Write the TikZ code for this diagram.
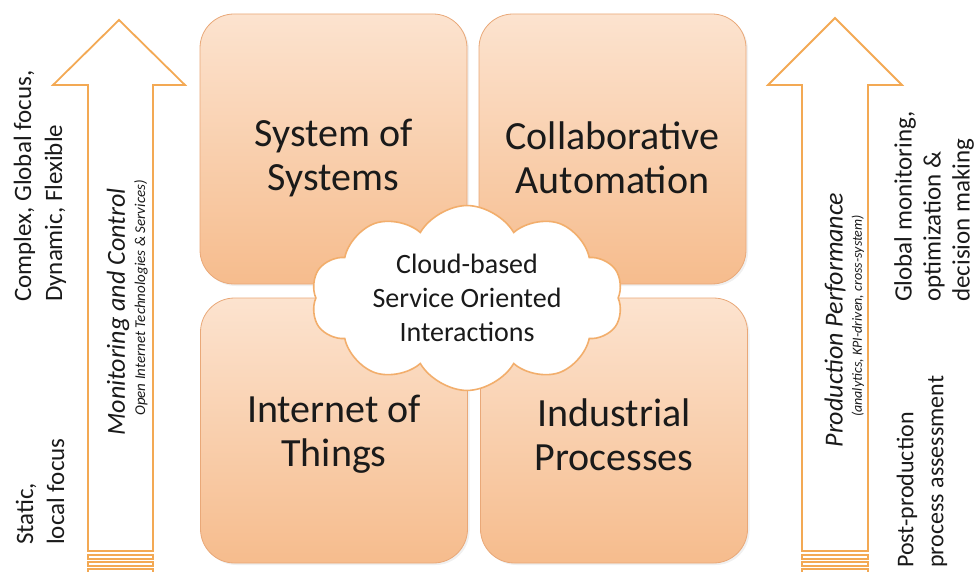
\documentclass[tikz,border=0pt]{standalone}
\usepackage{fontspec}
\setmainfont{Carlito}
\usepackage{xcolor}
\usetikzlibrary{shapes.symbols,shadows}
\definecolor{boxtop}{HTML}{FCE3CF}
\definecolor{boxbot}{HTML}{F6BC8D}
\definecolor{boxline}{HTML}{E9A878}
\definecolor{arrline}{HTML}{F3A954}
\definecolor{cloudline}{HTML}{F2AE6C}
\definecolor{txt}{HTML}{1A1A1A}

\begin{document}
\begin{tikzpicture}[
    x=1pt, y=-1pt,
    quad/.style={rounded corners=34pt, draw=boxline, line width=0.8pt,
        top color=boxtop, bottom color=boxbot,
        minimum width=267pt, minimum height=270pt, inner sep=0pt,
        drop shadow={opacity=0.12, shadow xshift=2pt, shadow yshift=-2pt}},
    quadtext/.style={align=center, text=txt, inner sep=0pt,
        font=\fontsize{40}{44}\selectfont},
    bigarrow/.style={draw=arrline, line width=1.8pt, fill=white, line join=miter},
    stripe/.style={draw=arrline, line width=1.4pt, fill=white},
    side/.style={rotate=90, anchor=west, align=left, inner sep=0pt, text=txt,
        font=\fontsize{25}{31}\selectfont},
    flowtitle/.style={rotate=90, inner sep=0pt, text=txt,
        font=\fontsize{26}{30}\selectfont\itshape},
    flowsub/.style={rotate=90, inner sep=0pt, text=txt,
        font=\fontsize{15}{18}\selectfont\itshape}
    ]
\useasboundingbox (0,0) rectangle (974,572);

% left and right block arrows
\draw[bigarrow] (88,551) -- (88,85) -- (53,85) -- (119,20) -- (185,85)
    -- (153,85) -- (153,551) -- cycle;
\draw[bigarrow] (802,551) -- (802,85) -- (768,85) -- (835,18) -- (902,85)
    -- (868,85) -- (868,551) -- cycle;
\foreach \y in {555,562,569} {
    \draw[stripe] (88,\y) rectangle (153,\y+4);
    \draw[stripe] (802,\y) rectangle (868,\y+4);
}

% four quadrants
\node[quad] (sos) at (333.5,149) {};
\node[quad] (colab) at (612.5,149) {};
\node[quad, minimum height=265pt] (iot) at (334,430.5) {};
\node[quad, minimum height=265pt] (indus) at (614,430.5) {};
\node[quadtext] (sostxt) at ([yshift=-9pt]sos.center) {System of\\Systems};
\node[quadtext] (colabtxt) at ([yshift=-9pt]colab.center) {Collaborative\\Automation};
\node[quadtext] (iottxt) at ([yshift=-4pt]iot.center) {Internet of\\Things};
\node[quadtext] (industxt) at ([yshift=-4pt]indus.center) {Industrial\\Processes};

% cloud in the middle
\node[cloud, cloud puffs=10, cloud puff arc=120, aspect=1.85,
      draw=cloudline, line width=1.6pt, fill=white, text=txt,
      minimum width=312pt, minimum height=168pt, inner sep=0pt,
      align=center, font=\fontsize{28}{34}\selectfont] (cloud) at (467,298)
    {Cloud-based\\Service Oriented\\Interactions};

% arrow texts
\node[flowtitle] (mon) at (118,312) {Monitoring and Control};
\node[flowsub] (monsub) at (141,298) {Open Internet Technologies \& Services)};
\node[flowtitle] (perf) at (835,320) {Production Performance};
\node[flowsub, font=\fontsize{14}{17}\selectfont\itshape] (perfsub) at (858,316)
    {(analytics, KPI-driven, cross-system)};

% side labels
\node[side] (complex) at (40,302) {Complex, Global focus,\\Dynamic, Flexible};
\node[side] (static) at (40,545) {Static,\\local focus};
\node[side, font=\fontsize{25}{29}\selectfont] (global) at (934,302)
    {Global monitoring,\\optimization \&\\decision making};
\node[side, font=\fontsize{24}{30}\selectfont] (post) at (922,568)
    {Post-production\\process assessment};
\end{tikzpicture}
\end{document}
